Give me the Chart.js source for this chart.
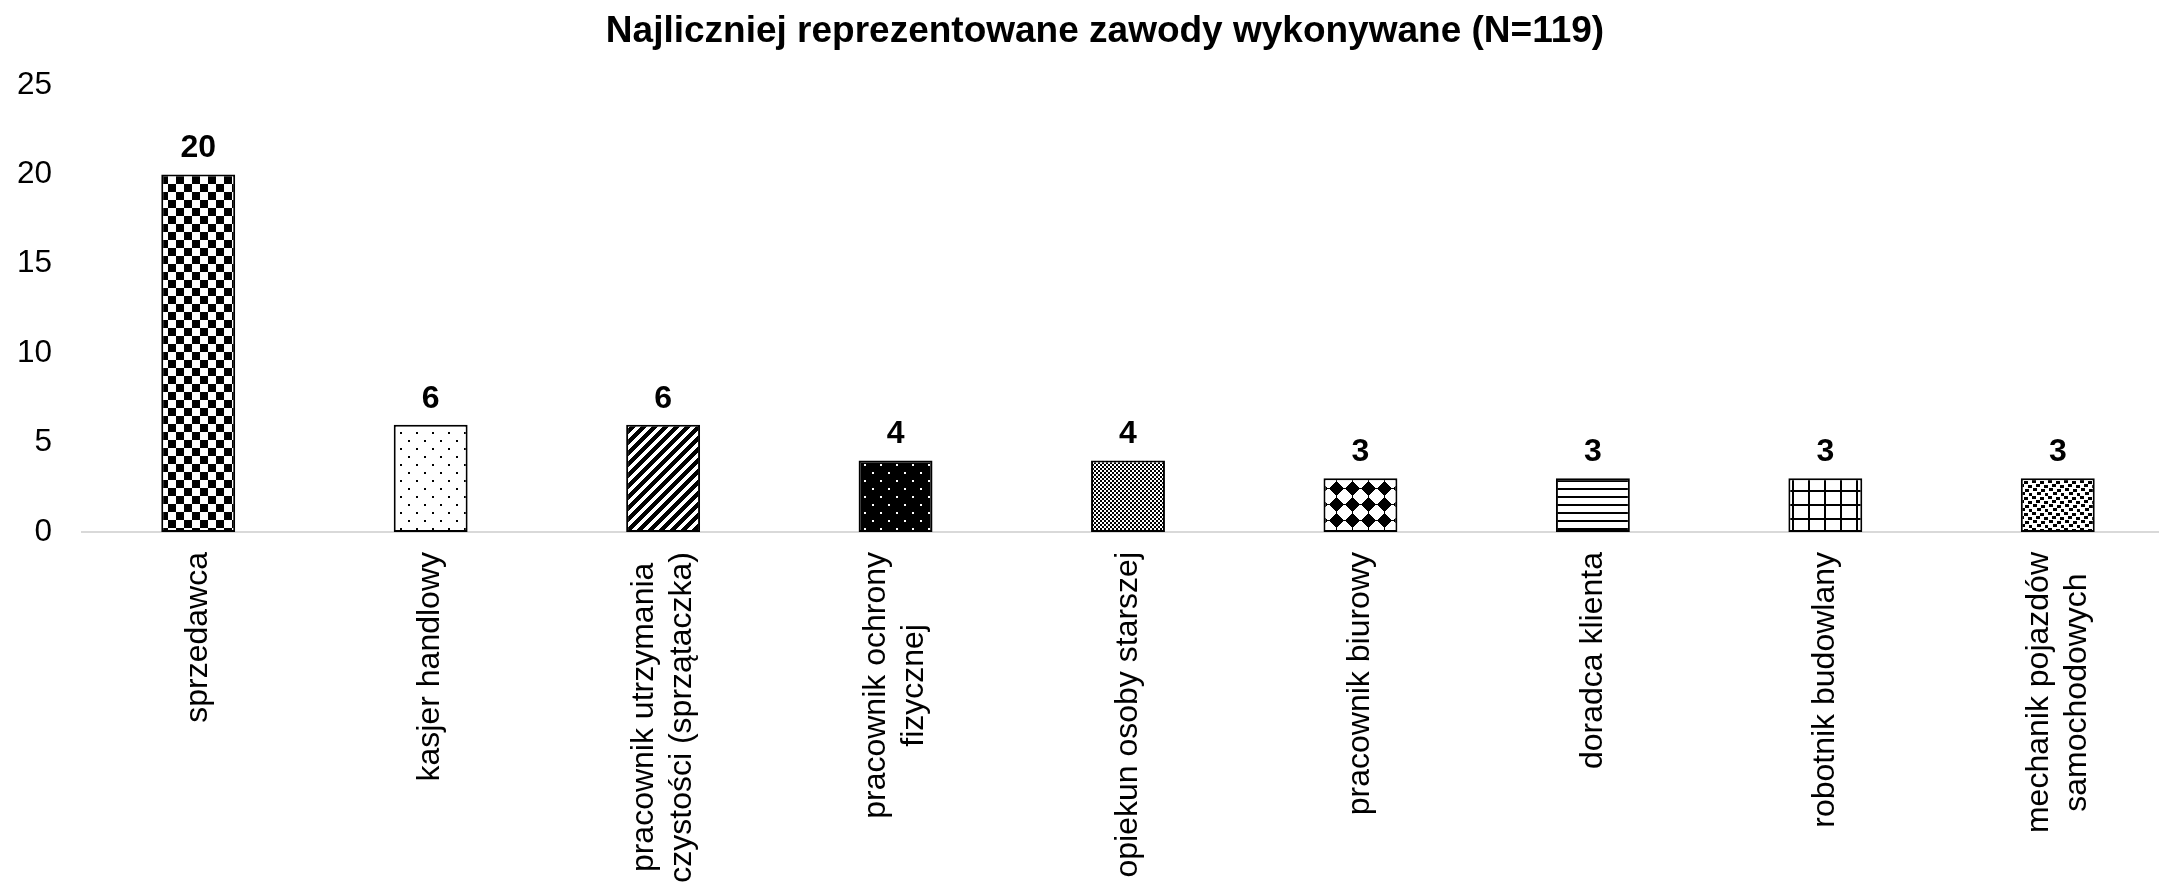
<!DOCTYPE html>
<html>
<head>
<meta charset="utf-8">
<script src="https://cdn.jsdelivr.net/npm/chart.js@4.4.1/dist/chart.umd.min.js"></script>
<style>
    html, body { margin: 0; padding: 0; background: #fff; overflow: hidden; }
    #wrap { width: 2174px; height: 882px; position: relative; }
</style>
</head>
<body>
<div id="wrap"><canvas id="occChart"></canvas></div>
<script>
// Data
const chartTitle = 'Najliczniej reprezentowane zawody wykonywane (N=119)';
const categories = [
    ['sprzedawca'],
    ['kasjer handlowy'],
    ['pracownik utrzymania', 'czystości (sprzątaczka)'],
    ['pracownik ochrony', 'fizycznej'],
    ['opiekun osoby starszej'],
    ['pracownik biurowy'],
    ['doradca klienta'],
    ['robotnik budowlany'],
    ['mechanik pojazdów', 'samochodowych']
];
const counts = [20, 6, 6, 4, 4, 3, 3, 3, 3];
const yTicks = [0, 5, 10, 15, 20, 25];

const FONT = "'Liberation Sans', Arial, sans-serif";

const canvas = document.getElementById('occChart');
const ctx = canvas.getContext('2d');

// Builds a black/white repeating fill from a small tile
function tile(w, h, draw, bg) {
    const c = document.createElement('canvas');
    c.width = w;
    c.height = h;
    const g = c.getContext('2d');
    g.fillStyle = bg || '#fff';
    g.fillRect(0, 0, w, h);
    g.fillStyle = bg === '#000' ? '#fff' : '#000';
    draw(g, w, h);
    return ctx.createPattern(c, 'repeat');
}

const patterns = [
    // large checkerboard
    tile(16, 16, g => { g.fillRect(0, 0, 8, 8); g.fillRect(8, 8, 8, 8); }),
    // sparse dots
    tile(16, 16, g => { g.fillRect(0, 0, 2, 2); g.fillRect(8, 8, 2, 2); }),
    // wide upward diagonal
    tile(11, 11, g => {
        for (let y = 0; y < 11; y++)
            for (let x = 0; x < 11; x++)
                if ((x + y) % 11 < 6) g.fillRect(x, y, 1, 1);
    }),
    // black with white dots
    tile(16, 16, g => { g.fillRect(0, 0, 2, 2); g.fillRect(8, 8, 2, 2); }, '#000'),
    // fine checkerboard
    tile(4, 4, g => { g.fillRect(0, 0, 2, 2); g.fillRect(2, 2, 2, 2); }),
    // solid diamonds
    tile(16, 16, g => {
        for (let dy = -7; dy <= 7; dy++) {
            const hw = 7 - Math.abs(dy);
            g.fillRect(8 - hw, 8 + dy, hw * 2 + 1, 1);
        }
        g.fillRect(0, 8, 16, 1);
        g.fillRect(8, 0, 1, 16);
    }),
    // horizontal lines
    tile(8, 8, g => { g.fillRect(0, 0, 8, 2); }),
    // grid
    tile(16, 14, g => { g.fillRect(0, 0, 2, 14); g.fillRect(0, 0, 16, 2); }),
    // confetti
    tile(16, 16, g => {
        [[0, 0], [8, 1], [4, 4], [12, 5], [1, 8], [9, 9], [5, 12], [13, 13]]
            .forEach(([x, y]) => g.fillRect(x, y, 4, 3));
    })
];

const labelPlugin = {
    id: 'occLabels',
    afterDraw(chart) {
        const c = chart.ctx;
        const xs = chart.scales.x;
        const meta = chart.getDatasetMeta(0);
        c.save();
        c.fillStyle = '#000';

        // title
        c.font = `bold 37px ${FONT}`;
        c.textAlign = 'center';
        c.textBaseline = 'alphabetic';
        c.fillText(chartTitle, 1105, 42);

        // value labels
        c.font = `bold 32px ${FONT}`;
        meta.data.forEach((bar, i) => {
            c.fillText(String(counts[i]), bar.x, bar.y - 17);
        });

        // rotated category labels, lines centred on each other
        c.font = `32px ${FONT}`;
        c.textBaseline = 'middle';
        categories.forEach((lines, i) => {
            const x = xs.getPixelForValue(i);
            const w = Math.max(...lines.map(l => c.measureText(l).width));
            c.save();
            c.translate(x, xs.top + 20);
            c.rotate(-Math.PI / 2);
            lines.forEach((l, j) => {
                c.fillText(l, -w / 2, (j - (lines.length - 1) / 2) * 38);
            });
            c.restore();
        });
        c.restore();
    }
};

new Chart(ctx, {
    type: 'bar',
    data: {
        labels: categories,
        datasets: [{
            data: counts,
            backgroundColor: patterns,
            borderColor: '#000',
            borderWidth: 2,
            borderSkipped: false,
            barPercentage: 0.318,
            categoryPercentage: 1
        }]
    },
    options: {
        responsive: true,
        maintainAspectRatio: false,
        devicePixelRatio: 1,
        animation: false,
        layout: { padding: { top: 85, right: 0, bottom: 350, left: 0 } },
        plugins: {
            legend: { display: false },
            title: { display: false },
            tooltip: { enabled: false }
        },
        scales: {
            x: {
                z: 1,
                grid: { display: false },
                border: { display: true, color: '#d9d9d9', width: 2 },
                ticks: { display: false },
                afterFit: s => { s.height = 0; }
            },
            y: {
                min: 0,
                max: 25,
                grid: { display: false, drawTicks: false },
                border: { display: false },
                afterBuildTicks: s => { s.ticks = yTicks.map(v => ({ value: v })); },
                afterFit: s => { s.width = 82; },
                ticks: {
                    padding: 30,
                    color: '#000',
                    font: { family: FONT, size: 31.5 }
                }
            }
        }
    },
    plugins: [labelPlugin]
});
</script>
</body>
</html>
